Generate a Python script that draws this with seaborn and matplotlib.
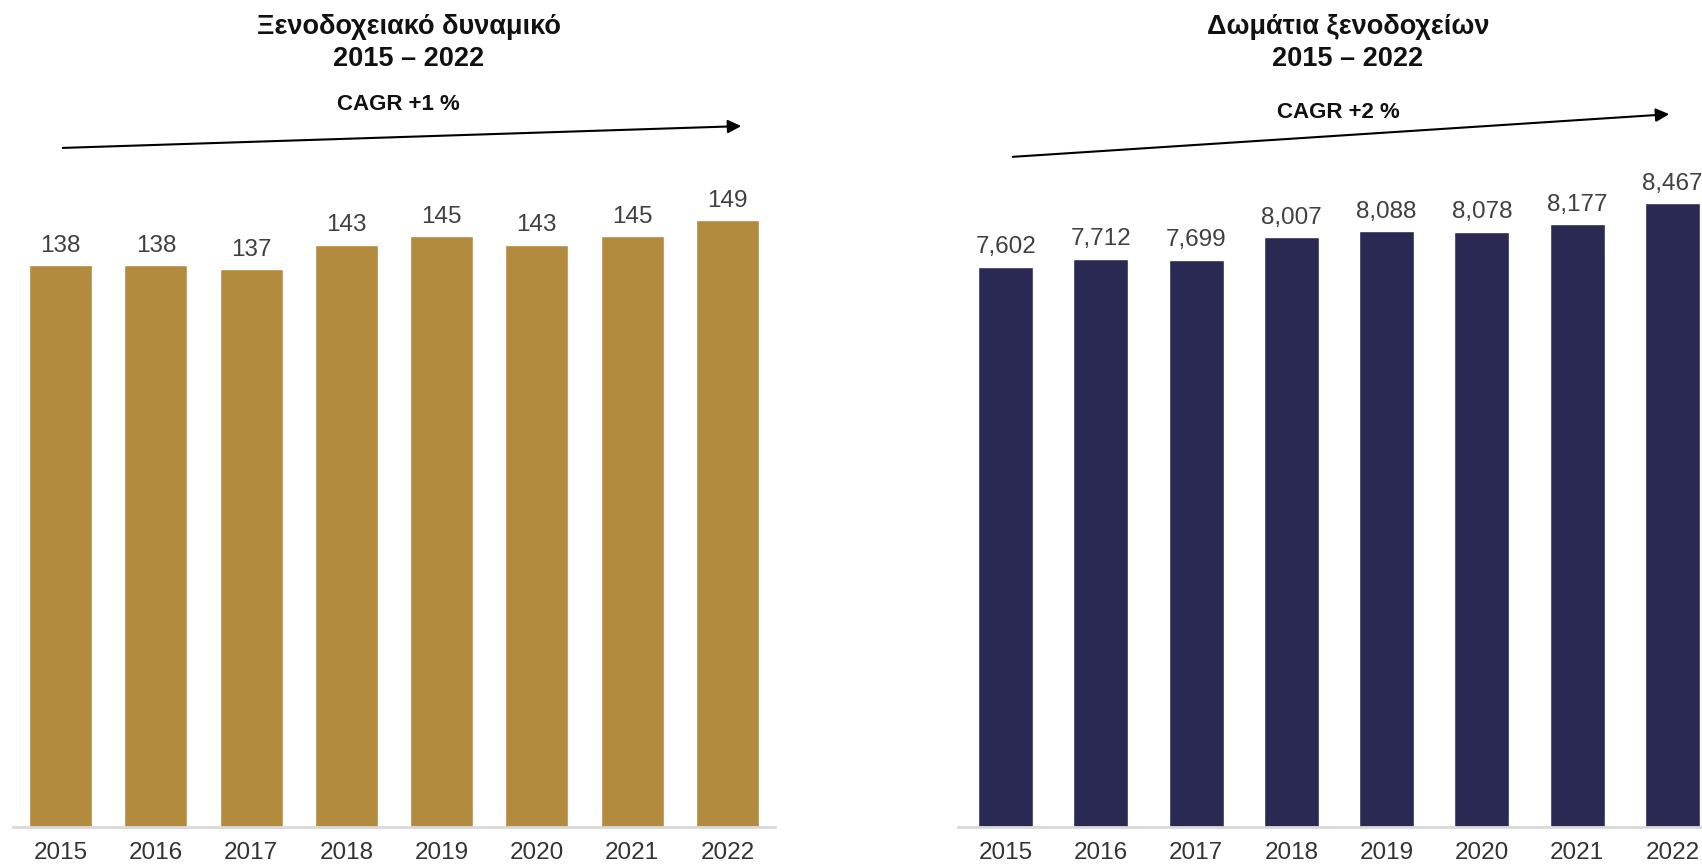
import matplotlib
matplotlib.use("Agg")
import matplotlib.pyplot as plt
from matplotlib.patches import FancyArrowPatch
import seaborn as sns
import pandas as pd

# data
years = ["2015", "2016", "2017", "2018", "2019", "2020", "2021", "2022"]
hotels = [138, 138, 137, 143, 145, 143, 145, 149]
rooms = [7602, 7712, 7699, 8007, 8088, 8078, 8177, 8467]
titles = ["Ξενοδοχειακό δυναμικό\n2015 – 2022", "Δωμάτια ξενοδοχείων\n2015 – 2022"]
cagr_labels = ["CAGR +1 %", "CAGR +2 %"]

gold = "#B38B3E"
navy = "#2A2954"

sns.set_style("white")
plt.rcParams["font.family"] = ["Liberation Sans", "DejaVu Sans"]

fig = plt.figure(figsize=(17.02, 8.68), dpi=100)
W, H = 1702, 868

def px(x0, y0, w, h):
    # pixel box (top-left origin) -> figure fraction
    return [x0 / W, 1 - (y0 + h) / H, w / W, h / H]

ax1 = fig.add_axes(px(13, 150, 762, 677))
ax2 = fig.add_axes(px(958, 150, 762, 677))

df1 = pd.DataFrame({"year": years, "value": hotels})
df2 = pd.DataFrame({"year": years, "value": rooms})

sns.barplot(data=df1, x="year", y="value", color=gold, width=0.66, saturation=1, ax=ax1)
sns.barplot(data=df2, x="year", y="value", color=navy, width=0.58, saturation=1, ax=ax2)

ax1.set_ylim(0, 166.2)
ax2.set_ylim(0, 9186)

for ax, fmt in [(ax1, "{:.0f}"), (ax2, "{:,.0f}")]:
    ax.bar_label(ax.containers[0], labels=[fmt.format(v) for v in ax.containers[0].datavalues],
                 padding=6, fontsize=17.5, color="#404040")
    ax.set_xlim(-0.5, 7.5)
    ax.set_xlabel("")
    ax.set_ylabel("")
    ax.set_yticks([])
    for s in ["top", "left", "right"]:
        ax.spines[s].set_visible(False)
    ax.spines["bottom"].set_color("#D9D9D9")
    ax.spines["bottom"].set_linewidth(2)
    ax.tick_params(axis="x", length=0, pad=11, labelsize=17.5, labelcolor="#333333")
    ax.patch.set_alpha(0)

# titles
fig.text(409 / W, 1 - 43 / H, titles[0], ha="center", va="center", fontsize=19.5,
         fontweight="bold", linespacing=1.3, color="#111111")
fig.text(1348 / W, 1 - 43 / H, titles[1], ha="center", va="center", fontsize=19.5,
         fontweight="bold", linespacing=1.3, color="#111111")

# CAGR labels and arrows
fig.text(398 / W, 1 - 105 / H, cagr_labels[0], ha="center", va="center", fontsize=16,
         fontweight="bold", color="#111111")
fig.text(1338 / W, 1 - 112 / H, cagr_labels[1], ha="center", va="center", fontsize=16,
         fontweight="bold", color="#111111")

fig.add_artist(FancyArrowPatch(
    (60 / W, 1 - 148 / H), (744 / W, 1 - 126 / H), transform=fig.transFigure,
    arrowstyle="-|>,head_length=8,head_width=4", color="black", lw=1.5, mutation_scale=1))
fig.add_artist(FancyArrowPatch(
    (1010 / W, 1 - 157 / H), (1672 / W, 1 - 114 / H), transform=fig.transFigure,
    arrowstyle="-|>,head_length=8,head_width=4", color="black", lw=1.5, mutation_scale=1))

fig.savefig("out.png", dpi=100)
